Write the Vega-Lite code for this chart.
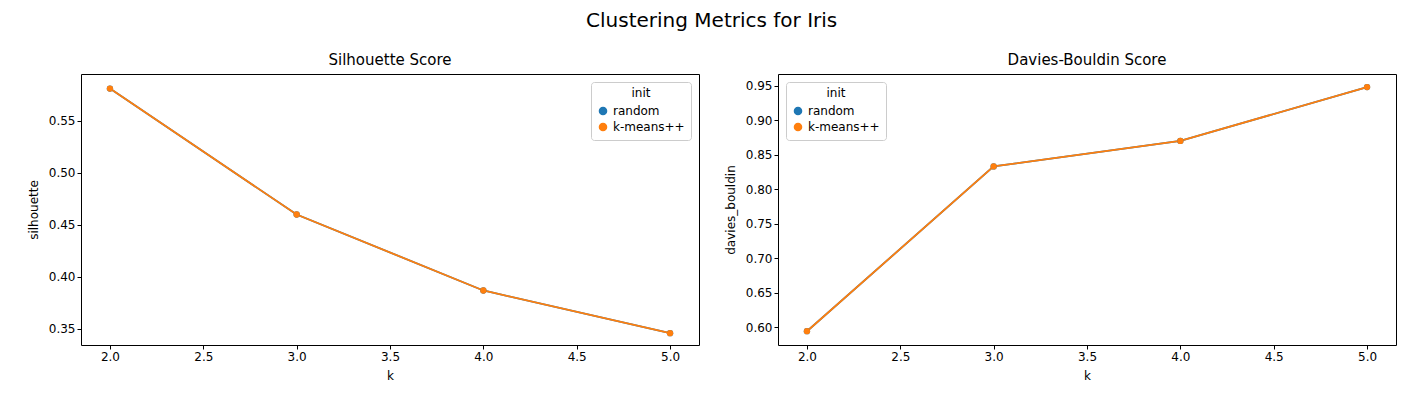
{
  "$schema": "https://vega.github.io/schema/vega-lite/v6.json",
  "background": "white",
  "padding": {"left": 26, "top": 10, "right": 10, "bottom": 5},
  "title": {"text": "Clustering Metrics for Iris", "fontSize": 20, "font": "DejaVu Sans", "fontWeight": "normal", "anchor": "middle", "offset": 22},
  "data": {
    "values": [
      {"k": 2, "init": "random", "silhouette": 0.581, "davies_bouldin": 0.594},
      {"k": 3, "init": "random", "silhouette": 0.460, "davies_bouldin": 0.833},
      {"k": 4, "init": "random", "silhouette": 0.387, "davies_bouldin": 0.870},
      {"k": 5, "init": "random", "silhouette": 0.346, "davies_bouldin": 0.948},
      {"k": 2, "init": "k-means++", "silhouette": 0.581, "davies_bouldin": 0.594},
      {"k": 3, "init": "k-means++", "silhouette": 0.460, "davies_bouldin": 0.833},
      {"k": 4, "init": "k-means++", "silhouette": 0.387, "davies_bouldin": 0.870},
      {"k": 5, "init": "k-means++", "silhouette": 0.346, "davies_bouldin": 0.948}
    ]
  },
  "spacing": 23,
  "hconcat": [
    {
      "title": {"text": "Silhouette Score", "fontSize": 15, "fontWeight": "normal", "font": "DejaVu Sans", "offset": 6},
      "width": 618,
      "height": 271,
      "mark": {"type": "line", "point": {"size": 40, "filled": true}, "strokeWidth": 1.8},
      "encoding": {
        "x": {"field": "k", "type": "quantitative", "scale": {"domain": [1.845, 5.155], "nice": false, "zero": false}, "axis": {"values": [2, 2.5, 3, 3.5, 4, 4.5, 5], "format": ".1f"}},
        "y": {"field": "silhouette", "type": "quantitative", "scale": {"domain": [0.3346, 0.595], "nice": false, "zero": false}, "axis": {"values": [0.35, 0.4, 0.45, 0.5, 0.55], "format": ".2f"}},
        "color": {"field": "init", "type": "nominal", "sort": ["random", "k-means++"], "scale": {"domain": ["random", "k-means++"], "range": ["#1f77b4", "#ff7f0e"]}, "legend": {"orient": "top-right", "offset": 8}},
        "order": {"field": "init", "sort": "descending"}
      }
    },
    {
      "title": {"text": "Davies-Bouldin Score", "fontSize": 15, "fontWeight": "normal", "font": "DejaVu Sans", "offset": 6},
      "width": 618,
      "height": 271,
      "mark": {"type": "line", "point": {"size": 40, "filled": true}, "strokeWidth": 1.8},
      "encoding": {
        "x": {"field": "k", "type": "quantitative", "scale": {"domain": [1.845, 5.155], "nice": false, "zero": false}, "axis": {"values": [2, 2.5, 3, 3.5, 4, 4.5, 5], "format": ".1f"}},
        "y": {"field": "davies_bouldin", "type": "quantitative", "scale": {"domain": [0.574, 0.967], "nice": false, "zero": false}, "axis": {"values": [0.6, 0.65, 0.7, 0.75, 0.8, 0.85, 0.9, 0.95], "format": ".2f"}},
        "color": {"field": "init", "type": "nominal", "sort": ["random", "k-means++"], "scale": {"domain": ["random", "k-means++"], "range": ["#1f77b4", "#ff7f0e"]}, "legend": {"orient": "top-left", "offset": 8}},
        "order": {"field": "init", "sort": "descending"}
      }
    }
  ],
  "resolve": {"scale": {"y": "independent", "color": "independent"}, "legend": {"color": "independent"}},
  "config": {
    "font": "DejaVu Sans",
    "view": {"stroke": "black", "strokeWidth": 1},
    "axis": {"grid": false, "domain": false, "tickColor": "black", "labelColor": "black", "titleColor": "black", "labelFontSize": 12, "titleFontSize": 12, "titleFontWeight": "normal", "tickSize": 4, "titlePadding": 8},
    "legend": {"titleFontSize": 12, "titleFontWeight": "normal", "labelFontSize": 12, "titleAnchor": "middle", "symbolType": "circle", "symbolSize": 50, "strokeColor": "#cccccc", "fillColor": "white", "padding": 6, "cornerRadius": 3}
  }
}
